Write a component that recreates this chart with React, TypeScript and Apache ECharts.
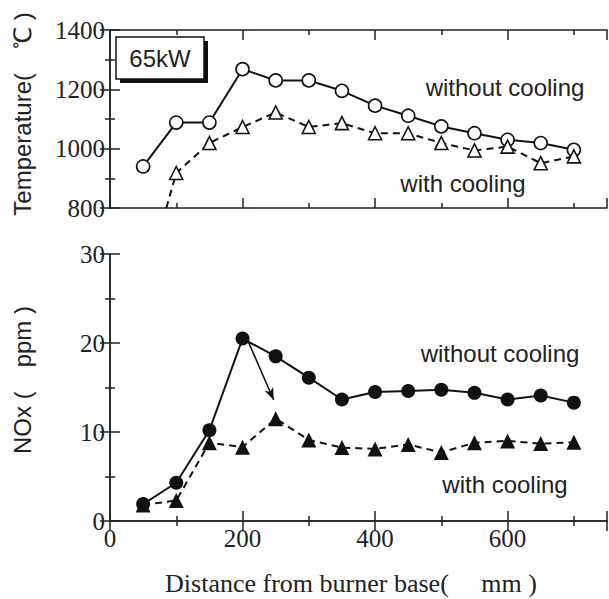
import React, { useEffect, useRef } from "react";
import * as echarts from "echarts";

const distance = [50, 100, 150, 200, 250, 300, 350, 400, 450, 500, 550, 600, 650, 700];
const tempWithout = [940, 1088, 1088, 1268, 1230, 1230, 1195, 1145, 1111, 1075, 1052, 1030, 1019, 996];
const tempWithDistance = [85, 100, 150, 200, 250, 300, 350, 400, 450, 500, 550, 600, 650, 700];
const tempWith = [800, 918, 1019, 1073, 1122, 1073, 1086, 1052, 1052, 1019, 994, 1007, 951, 974];
const noxWithout = [1.9, 4.3, 10.2, 20.5, 18.5, 16.1, 13.65, 14.5, 14.6, 14.75, 14.4, 13.65, 14.1, 13.3];
const noxWith = [1.8, 2.3, 8.8, 8.3, 11.5, 9.1, 8.25, 8.1, 8.6, 7.7, 8.8, 9.0, 8.7, 8.85];
const arrowFrom = [209, 20.1];
const arrowTo = [247, 13.6];
const xTicks = { min: 0, max: 750, interval: 200 };

const serif = "'Liberation Serif', 'Times New Roman', serif";
const sans = "'Liberation Sans', Arial, sans-serif";

export default function App() {
  const ref = useRef<HTMLDivElement>(null);
  useEffect(() => {
    if (!ref.current) return;
    const chart = echarts.init(ref.current, null, { renderer: "svg" });
    const axisLine = { show: true, lineStyle: { color: "#222", width: 1.5 } };
    const tick = (len: number) => ({ show: true, inside: true, length: len, lineStyle: { color: "#222", width: 1.5 } });
    const minor = (n: number) => ({ show: true, splitNumber: n, length: 5, lineStyle: { color: "#222", width: 1.5 } });
    const plain = (v: number) => String(v);
    const xBase = (gridIndex: number, pos: string, labels: boolean) => ({
      type: "value",
      gridIndex,
      position: pos,
      min: xTicks.min,
      max: xTicks.max,
      interval: xTicks.interval,
      axisLine,
      axisTick: tick(10),
      minorTick: minor(2),
      splitLine: { show: false },
      axisLabel: labels
        ? { show: true, fontFamily: serif, fontSize: 25, color: "#222", margin: 5, showMaxLabel: false, formatter: plain }
        : { show: false },
    });
    const yBase = (gridIndex: number, pos: string, min: number, max: number, interval: number, labels: boolean) => ({
      type: "value",
      gridIndex,
      position: pos,
      min,
      max,
      interval,
      axisLine,
      axisTick: tick(10),
      minorTick: minor(2),
      splitLine: { show: false },
      axisLabel: labels
        ? { show: true, fontFamily: serif, fontSize: 25, color: "#222", margin: 5, formatter: plain }
        : { show: false },
    });
    const option: any = {
      animation: false,
      backgroundColor: "#fff",
      grid: [
        { left: 110, right: 2, top: 30, height: 178 },
        { left: 110, right: 2, top: 254, height: 267 },
      ],
      xAxis: [
        xBase(0, "bottom", false),
        xBase(0, "top", false),
        xBase(1, "bottom", true),
        xBase(1, "top", false),
      ],
      yAxis: [
        yBase(0, "left", 800, 1400, 200, true),
        yBase(0, "right", 800, 1400, 200, false),
        yBase(1, "left", 0, 30, 10, true),
        yBase(1, "right", 0, 30, 10, false),
      ],
      series: [
        {
          type: "line",
          xAxisIndex: 0,
          yAxisIndex: 0,
          data: distance.map((d, i) => [d, tempWithout[i]]),
          symbol: "circle",
          symbolSize: 13,
          lineStyle: { color: "#111", width: 2 },
          itemStyle: { color: "#fff", borderColor: "#111", borderWidth: 1.6 },
        },
        {
          type: "line",
          xAxisIndex: 0,
          yAxisIndex: 0,
          data: tempWithDistance.map((d, i) =>
            i === 0 ? { value: [d, tempWith[i]], symbol: "none" } : [d, tempWith[i]]
          ),
          symbol: "triangle",
          symbolSize: 13,
          lineStyle: { color: "#111", width: 2, type: [7, 5] },
          itemStyle: { color: "#fff", borderColor: "#111", borderWidth: 1.6 },
        },
        {
          type: "line",
          xAxisIndex: 2,
          yAxisIndex: 2,
          data: distance.map((d, i) => [d, noxWithout[i]]),
          symbol: "circle",
          symbolSize: 14,
          lineStyle: { color: "#111", width: 2 },
          itemStyle: { color: "#111" },
          markLine: {
            silent: true,
            symbol: ["none", "arrow"],
            symbolSize: [7, 12],
            label: { show: false },
            lineStyle: { color: "#111", width: 1.5, type: "solid" },
            data: [[{ coord: arrowFrom }, { coord: arrowTo }]],
          },
        },
        {
          type: "line",
          xAxisIndex: 2,
          yAxisIndex: 2,
          data: distance.map((d, i) => [d, noxWith[i]]),
          symbol: "triangle",
          symbolSize: 15,
          lineStyle: { color: "#111", width: 2, type: [7, 5] },
          itemStyle: { color: "#111" },
        },
      ],
      graphic: [
        { type: "rect", shape: { x: 120, y: 41, width: 88, height: 42 }, style: { fill: "#111" } },
        { type: "rect", shape: { x: 116, y: 37, width: 88, height: 42 }, style: { fill: "#fff", stroke: "#111", lineWidth: 1.5 } },
        { type: "text", x: 160, y: 58, style: { text: "65kW", font: `24px ${sans}`, fill: "#222", align: "center", verticalAlign: "middle" } },
        { type: "text", x: 505, y: 87, style: { text: "without cooling", font: `24px ${sans}`, fill: "#222", align: "center", verticalAlign: "middle" } },
        { type: "text", x: 463, y: 183, style: { text: "with cooling", font: `24px ${sans}`, fill: "#222", align: "center", verticalAlign: "middle" } },
        { type: "text", x: 500, y: 353, style: { text: "without cooling", font: `24px ${sans}`, fill: "#222", align: "center", verticalAlign: "middle" } },
        { type: "text", x: 505, y: 484, style: { text: "with cooling", font: `24px ${sans}`, fill: "#222", align: "center", verticalAlign: "middle" } },
        { type: "text", x: 22, y: 114, rotation: Math.PI / 2, style: { text: "Temperature(\u3000\u2103 )", font: `24px ${sans}`, fill: "#222", align: "center", verticalAlign: "middle" } },
        { type: "text", x: 22, y: 380, rotation: Math.PI / 2, style: { text: "NOx (\u3000ppm )", font: `24px ${sans}`, fill: "#222", align: "center", verticalAlign: "middle" } },
        { type: "text", x: 351, y: 583, style: { text: "Distance from burner base(\u3000 mm )", font: `26px ${serif}`, fill: "#222", align: "center", verticalAlign: "middle" } },
      ],
    };
    chart.setOption(option);
    return () => chart.dispose();
  }, []);
  return <div ref={ref} style={{ width: 609, height: 599, position: "absolute", left: 0, top: 0 }} />;
}
